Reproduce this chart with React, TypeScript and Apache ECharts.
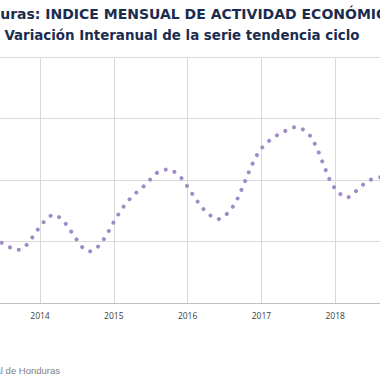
import React, { useEffect, useRef } from "react";
import * as echarts from "echarts";

// Monthly categories: Jun 2013 .. Sep 2018
const months: string[] = [
  "2013-06", "2013-07", "2013-08", "2013-09", "2013-10", "2013-11", "2013-12",
  "2014-01", "2014-02", "2014-03", "2014-04", "2014-05", "2014-06", "2014-07", "2014-08", "2014-09", "2014-10", "2014-11", "2014-12",
  "2015-01", "2015-02", "2015-03", "2015-04", "2015-05", "2015-06", "2015-07", "2015-08", "2015-09", "2015-10", "2015-11", "2015-12",
  "2016-01", "2016-02", "2016-03", "2016-04", "2016-05", "2016-06", "2016-07", "2016-08", "2016-09", "2016-10", "2016-11", "2016-12",
  "2017-01", "2017-02", "2017-03", "2017-04", "2017-05", "2017-06", "2017-07", "2017-08", "2017-09", "2017-10", "2017-11", "2017-12",
  "2018-01", "2018-02", "2018-03", "2018-04", "2018-05", "2018-06", "2018-07", "2018-08", "2018-09",
];

// Interannual variation (%) of trend-cycle series
const variacion: number[] = [
  2.05, 1.93, 1.82, 1.72, 1.74, 1.92, 2.20,
  2.49, 2.72, 2.88, 2.81, 2.63, 2.35, 2.05, 1.78, 1.67, 1.74, 1.96, 2.27,
  2.64, 2.97, 3.25, 3.47, 3.65, 3.82, 4.03, 4.23, 4.32, 4.36, 4.25, 4.06,
  3.78, 3.48, 3.19, 2.96, 2.80, 2.72, 2.82, 3.02, 3.34, 3.79, 4.28, 4.72,
  5.03, 5.24, 5.38, 5.51, 5.61, 5.71, 5.72, 5.62, 5.42, 5.06, 4.55, 4.05,
  3.70, 3.51, 3.42, 3.56, 3.76, 3.93, 4.03, 4.08, 4.10,
];

const yTicks = { min: 0, max: 8, interval: 2 };

const TITLE = "Honduras: INDICE MENSUAL DE ACTIVIDAD ECONÓMICA";
const SUBTITLE = "Variación Interanual de la serie tendencia ciclo";
const SOURCE = "Fuente: Banco Central de Honduras";

const OFFSET = 118; // inner chart shifted left (reference is a crop)

export default function App() {
  const ref = useRef<HTMLDivElement>(null);
  useEffect(() => {
    if (!ref.current) return;
    const chart = echarts.init(ref.current, undefined, { renderer: "svg" });
    const isJan = (_i: number, v: string) => v.endsWith("-01");
    chart.setOption({
      animation: false,
      backgroundColor: "#ffffff",
      grid: { left: 114.95, right: 97.6, top: 57, bottom: 77 },
      xAxis: {
        type: "category",
        data: months,
        boundaryGap: false,
        axisLine: { lineStyle: { color: "#bfbfbf", width: 1 } },
        axisTick: { show: false },
        axisLabel: {
          interval: isJan,
          formatter: (v: string) => v.slice(0, 4),
          color: "#404040",
          fontSize: 8.5,
          fontFamily: "Open Sans",
          margin: 8,
        },
        splitLine: { show: true, interval: isJan, lineStyle: { color: "#d9d9d9", width: 1 } },
      },
      yAxis: {
        type: "value",
        min: yTicks.min,
        max: yTicks.max,
        interval: yTicks.interval,
        axisLine: { show: false },
        axisTick: { show: false },
        axisLabel: { show: false },
        splitLine: { lineStyle: { color: "#d9d9d9", width: 1 } },
      },
      graphic: [
        {
          type: "text",
          x: 296,
          y: 14,
          style: {
            text: TITLE,
            fill: "#1b2d4f",
            font: "bold 14px 'DejaVu Sans'",
            textAlign: "center",
            textVerticalAlign: "middle",
          },
        },
        {
          type: "text",
          x: 300,
          y: 35.5,
          style: {
            text: SUBTITLE,
            fill: "#1b2d4f",
            font: "bold 13.4px 'DejaVu Sans'",
            textAlign: "center",
            textVerticalAlign: "middle",
          },
        },
        {
          type: "text",
          x: 60 + OFFSET,
          y: 370,
          style: {
            text: SOURCE,
            fill: "#808080",
            font: "9.5px 'Liberation Sans'",
            textAlign: "right",
            textVerticalAlign: "middle",
          },
        },
      ],
      series: [
        {
          type: "line",
          data: variacion,
          showSymbol: false,
          symbol: "none",
          lineStyle: {
            color: "#a08bc8",
            width: 4,
            type: [0.01, 9.49],
            dashOffset: 4,
            cap: "round",
          },
        },
      ],
    });
    return () => chart.dispose();
  }, []);
  return (
    <div style={{ position: "fixed", left: 0, top: 0, width: 380, height: 380, overflow: "hidden", background: "#fff" }}>
      <div ref={ref} style={{ position: "absolute", left: -OFFSET, top: 0, width: 600, height: 380 }} />
    </div>
  );
}
